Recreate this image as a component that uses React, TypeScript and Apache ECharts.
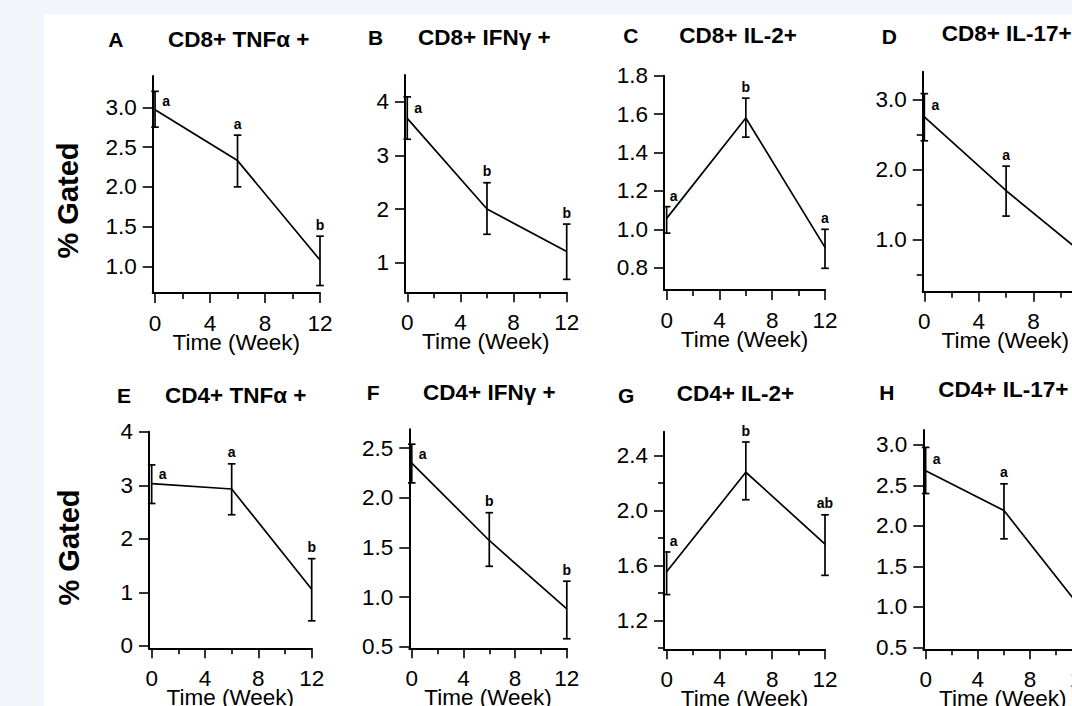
import React, { useEffect, useRef } from "react";
import * as echarts from "echarts";

// ---------------- data ----------------
const weeks = [0, 6, 12];
const xTickValues = [0, 4, 8, 12];
const xMinorTickValues = [2, 6, 10];
const xAxisTitle = "Time (Week)";
const yAxisTitle = "% Gated";

const panelLetters = ["A", "B", "C", "D", "E", "F", "G", "H"];
const panelTitles = [
  "CD8+ TNFα +",
  "CD8+ IFNγ +",
  "CD8+ IL-2+",
  "CD8+ IL-17+",
  "CD4+ TNFα +",
  "CD4+ IFNγ +",
  "CD4+ IL-2+",
  "CD4+ IL-17+",
];

// A: CD8+ TNFα+
const meanA = [2.97, 2.33, 1.08];
const highA = [3.2, 2.65, 1.38];
const lowA = [2.75, 2.0, 0.76];
const lettersA = ["a", "a", "b"];
const yTicksA = [1.0, 1.5, 2.0, 2.5, 3.0];

// B: CD8+ IFNγ+
const meanB = [3.69, 2.0, 1.21];
const highB = [4.09, 2.49, 1.72];
const lowB = [3.3, 1.53, 0.69];
const lettersB = ["a", "b", "b"];
const yTicksB = [1, 2, 3, 4];

// C: CD8+ IL-2+
const meanC = [1.057, 1.58, 0.906];
const highC = [1.118, 1.683, 1.0];
const lowC = [0.98, 1.48, 0.797];
const lettersC = ["a", "b", "a"];
const yTicksC = [0.8, 1.0, 1.2, 1.4, 1.6, 1.8];

// D: CD8+ IL-17+
const meanD = [2.75, 1.7, 0.75];
const highD = [3.08, 2.05, 1.05];
const lowD = [2.41, 1.34, 0.45];
const lettersD = ["a", "a", "b"];
const yTicksD = [1.0, 2.0, 3.0];
const yMinorD = [0.5, 1.5, 2.5];

// E: CD4+ TNFα+
const meanE = [3.03, 2.93, 1.06];
const highE = [3.38, 3.4, 1.63];
const lowE = [2.66, 2.45, 0.47];
const lettersE = ["a", "a", "b"];
const yTicksE = [0, 1, 2, 3, 4];

// F: CD4+ IFNγ+
const meanF = [2.35, 1.57, 0.88];
const highF = [2.54, 1.85, 1.16];
const lowF = [2.15, 1.31, 0.58];
const lettersF = ["a", "b", "b"];
const yTicksF = [0.5, 1.0, 1.5, 2.0, 2.5];

// G: CD4+ IL-2+
const meanG = [1.556, 2.28, 1.758];
const highG = [1.7, 2.5, 1.97];
const lowG = [1.39, 2.08, 1.53];
const lettersG = ["a", "b", "ab"];
const yTicksG = [1.2, 1.6, 2.0, 2.4];
const yMinorG = [1.0, 1.4, 1.8, 2.2];

// H: CD4+ IL-17+
const meanH = [2.68, 2.19, 0.96];
const highH = [2.97, 2.52, 1.25];
const lowH = [2.4, 1.84, 0.67];
const lettersH = ["a", "a", "b"];
const yTicksH = [0.5, 1.0, 1.5, 2.0, 2.5, 3.0];

const panels = [
  { mean: meanA, high: highA, low: lowA, letters: lettersA, yTicks: yTicksA, yMinor: [] as number[], decimals: 1, yMin: 0.666, yMax: 3.393, xMin: -0.17 },
  { mean: meanB, high: highB, low: lowB, letters: lettersB, yTicks: yTicksB, yMinor: [] as number[], decimals: 0, yMin: 0.449, yMax: 4.497, xMin: -0.17 },
  { mean: meanC, high: highC, low: lowC, letters: lettersC, yTicks: yTicksC, yMinor: [] as number[], decimals: 1, yMin: 0.684, yMax: 1.8, xMin: -0.2 },
  { mean: meanD, high: highD, low: lowD, letters: lettersD, yTicks: yTicksD, yMinor: yMinorD, decimals: 1, yMin: 0.265, yMax: 3.392, xMin: -0.12 },
  { mean: meanE, high: highE, low: lowE, letters: lettersE, yTicks: yTicksE, yMinor: [] as number[], decimals: 0, yMin: -0.043, yMax: 4.0, xMin: -0.2 },
  { mean: meanF, high: highF, low: lowF, letters: lettersF, yTicks: yTicksF, yMinor: [] as number[], decimals: 1, yMin: 0.484, yMax: 2.69, xMin: -0.19 },
  { mean: meanG, high: highG, low: lowG, letters: lettersG, yTicks: yTicksG, yMinor: yMinorG, decimals: 1, yMin: 0.992, yMax: 2.575, xMin: -0.2 },
  { mean: meanH, high: highH, low: lowH, letters: lettersH, yTicks: yTicksH, yMinor: [] as number[], decimals: 1, yMin: 0.475, yMax: 3.185, xMin: -0.18 },
];

// ---------------- layout (pixels) ----------------
const layouts = [
  { left: 152.7, top: 76, width: 167.3, height: 217, letterX: 108.3, letterY: 39.5, titleX: 168, titleY: 39.5 },
  { left: 405, top: 75, width: 161.7, height: 217.3, letterX: 368, letterY: 37.5, titleX: 418, titleY: 37 },
  { left: 664, top: 75.7, width: 161, height: 214.3, letterX: 623.3, letterY: 35.5, titleX: 679.3, titleY: 35 },
  { left: 922.7, top: 71.7, width: 165.2, height: 220, letterX: 881.7, letterY: 36, titleX: 941.7, titleY: 33 },
  { left: 149, top: 431.7, width: 162.7, height: 216.6, letterX: 117, letterY: 395, titleX: 165, titleY: 395 },
  { left: 409.3, top: 429.3, width: 157.5, height: 219, letterX: 366.7, letterY: 392.7, titleX: 423, titleY: 392 },
  { left: 664, top: 431.7, width: 161, height: 217.6, letterX: 618, letterY: 395.7, titleX: 676.7, titleY: 393.5 },
  { left: 923.3, top: 430, width: 159, height: 219.3, letterX: 879.3, letterY: 392.3, titleX: 938.3, titleY: 389.5 },
];
const yTitlePositions = [
  { x: 68, y: 200.5 },
  { x: 69, y: 547.5 },
];

const FONT = "'Liberation Sans', Arial, Helvetica, sans-serif";
const BLACK = "#000";

function buildOption() {
  const grid: any[] = [];
  const xAxis: any[] = [];
  const yAxis: any[] = [];
  const series: any[] = [];
  const graphic: any[] = [];

  panels.forEach((p, i) => {
    const L = layouts[i];
    grid.push({
      left: L.left,
      top: L.top,
      width: L.width,
      height: L.height,
      containLabel: false,
      outerBoundsMode: "none",
    });

    const xi = xAxis.length;
    xAxis.push({
      type: "value",
      gridIndex: i,
      min: p.xMin,
      max: 12,
      position: "bottom",
      axisLine: { show: true, onZero: false, lineStyle: { color: BLACK, width: 2 } },
      axisTick: { show: true, customValues: xTickValues, length: 10, lineStyle: { color: BLACK, width: 1.6 } },
      axisLabel: {
        show: true,
        customValues: xTickValues,
        margin: 22,
        lineHeight: 16,
        color: BLACK,
        fontSize: 22.5,
        fontFamily: FONT,
        formatter: (v: number) => String(v),
      },
      splitLine: { show: false },
      name: xAxisTitle,
      nameLocation: "middle",
      nameGap: 41,
      nameMoveOverlap: false,
      nameTextStyle: { color: BLACK, fontSize: 22.5, lineHeight: 16, fontFamily: FONT },
    });
    xAxis.push({
      type: "value",
      gridIndex: i,
      min: p.xMin,
      max: 12,
      position: "bottom",
      axisLine: { show: false, onZero: false },
      axisTick: { show: true, customValues: xMinorTickValues, length: 6, lineStyle: { color: BLACK, width: 1.6 } },
      axisLabel: { show: false },
      splitLine: { show: false },
    });

    const yi = yAxis.length;
    yAxis.push({
      type: "value",
      gridIndex: i,
      min: p.yMin,
      max: p.yMax,
      position: "left",
      axisLine: { show: true, onZero: false, lineStyle: { color: BLACK, width: 2 } },
      axisTick: { show: true, customValues: p.yTicks, length: 10, lineStyle: { color: BLACK, width: 1.6 } },
      axisLabel: {
        show: true,
        customValues: p.yTicks,
        margin: 16,
        color: BLACK,
        fontSize: 22.5,
        fontFamily: FONT,
        formatter: (v: number) => v.toFixed(p.decimals),
      },
      splitLine: { show: false },
    });
    if (p.yMinor.length) {
      yAxis.push({
        type: "value",
        gridIndex: i,
        min: p.yMin,
        max: p.yMax,
        position: "left",
        axisLine: { show: false, onZero: false },
        axisTick: { show: true, customValues: p.yMinor, length: 6, lineStyle: { color: BLACK, width: 1.6 } },
        axisLabel: { show: false },
        splitLine: { show: false },
      });
    }

    series.push({
      type: "line",
      xAxisIndex: xi,
      yAxisIndex: yi,
      data: weeks.map((w, j) => [w, p.mean[j]]),
      symbol: "none",
      lineStyle: { color: BLACK, width: 1.7 },
      z: 3,
    });

    const rising = p.mean[1] > p.mean[0];
    series.push({
      type: "custom",
      xAxisIndex: xi,
      yAxisIndex: yi,
      coordinateSystem: "cartesian2d",
      data: weeks.map((w, j) => [w, p.low[j], p.high[j], p.mean[j]]),
      encode: { x: 0, y: [1, 2] },
      z: 4,
      renderItem: (params: any, api: any) => {
        const x = api.value(0);
        const lo = api.coord([x, api.value(1)]);
        const hi = api.coord([x, api.value(2)]);
        const m = api.coord([x, api.value(3)]);
        const cap = 3.8;
        const j = params.dataIndex;
        const lineStyle = { stroke: BLACK, lineWidth: 1.7 };
        let tx = hi[0];
        let ty = hi[1] - 11.5;
        if (j === 0) {
          if (rising) {
            tx = hi[0] + 7;
            ty = hi[1] - 11;
          } else {
            tx = hi[0] + 11;
            ty = (hi[1] + m[1]) / 2;
          }
        }
        return {
          type: "group",
          children: [
            { type: "line", shape: { x1: lo[0], y1: lo[1], x2: hi[0], y2: hi[1] }, style: lineStyle },
            { type: "line", shape: { x1: hi[0] - cap, y1: hi[1], x2: hi[0] + cap, y2: hi[1] }, style: lineStyle },
            { type: "line", shape: { x1: lo[0] - cap, y1: lo[1], x2: lo[0] + cap, y2: lo[1] }, style: lineStyle },
            {
              type: "text",
              x: tx,
              y: ty,
              style: {
                text: p.letters[j],
                fill: BLACK,
                font: `bold 14px ${FONT}`,
                align: "center",
                verticalAlign: "middle",
                textAlign: "center",
                textVerticalAlign: "middle",
              },
            },
          ],
        };
      },
    });

    graphic.push({
      type: "text",
      x: L.letterX,
      y: L.letterY,
      style: {
        text: panelLetters[i],
        fill: BLACK,
        font: `bold 21px ${FONT}`,
        align: "left",
        verticalAlign: "middle",
        textAlign: "left",
        textVerticalAlign: "middle",
      },
    });
    graphic.push({
      type: "text",
      x: L.titleX,
      y: L.titleY,
      style: {
        text: panelTitles[i],
        fill: BLACK,
        font: `bold 22.5px ${FONT}`,
        align: "left",
        verticalAlign: "middle",
        textAlign: "left",
        textVerticalAlign: "middle",
      },
    });
  });

  yTitlePositions.forEach((pos) => {
    graphic.push({
      type: "text",
      x: pos.x,
      y: pos.y,
      rotation: Math.PI / 2,
      style: {
        text: yAxisTitle,
        fill: BLACK,
        font: `bold 29px ${FONT}`,
        align: "center",
        verticalAlign: "middle",
        textAlign: "center",
        textVerticalAlign: "middle",
      },
    });
  });

  return {
    animation: false,
    backgroundColor: "transparent",
    grid,
    xAxis,
    yAxis,
    series,
    graphic,
  };
}

export default function App() {
  const ref = useRef<HTMLDivElement>(null);
  useEffect(() => {
    if (!ref.current) return;
    const chart = echarts.init(ref.current, null, { renderer: "svg" });
    chart.setOption(buildOption() as any);
    return () => {
      chart.dispose();
    };
  }, []);
  return (
    <div
      style={{
        position: "fixed",
        left: 0,
        top: 0,
        width: 1072,
        height: 706,
        background: "#f2f5fa",
        overflow: "hidden",
      }}
    >
      <div
        style={{
          position: "absolute",
          left: 44,
          top: 14,
          right: 0,
          bottom: 0,
          background: "#ffffff",
        }}
      />
      <div ref={ref} style={{ position: "absolute", left: 0, top: 0, width: 1072, height: 706 }} />
    </div>
  );
}
